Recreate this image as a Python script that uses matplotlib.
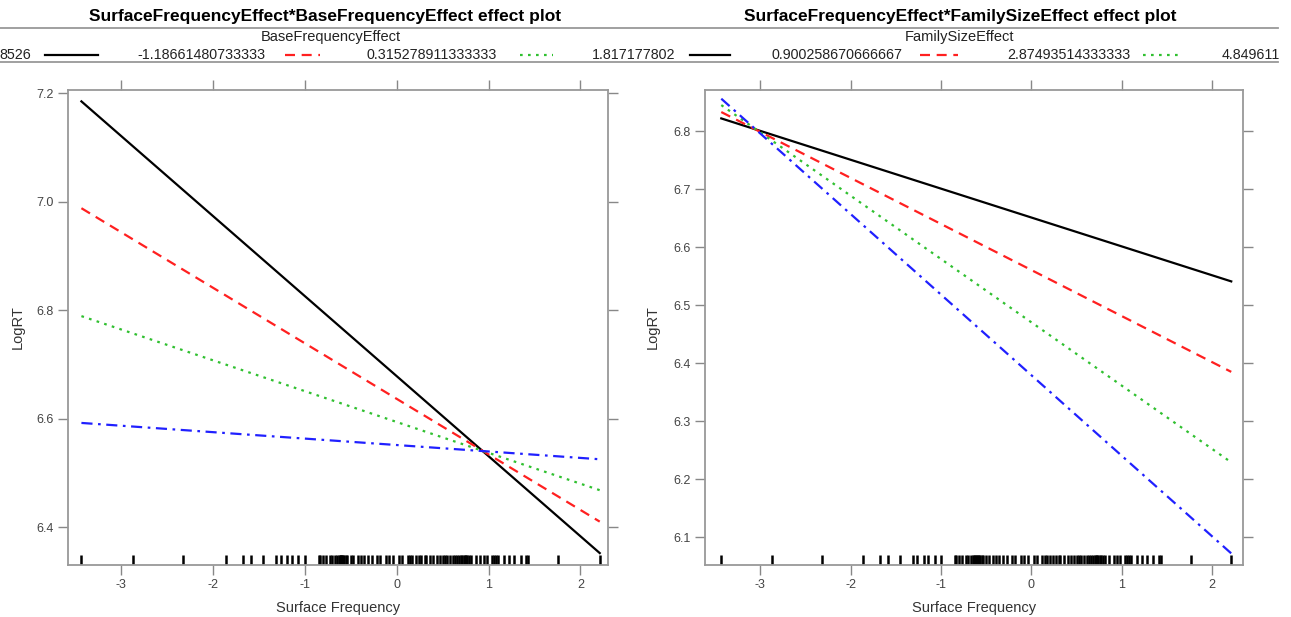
import numpy as np
import matplotlib
matplotlib.use("Agg")
import matplotlib.pyplot as plt
from matplotlib.lines import Line2D

plt.rcParams["font.family"] = ["Liberation Sans", "DejaVu Sans"]

W, H = 1291, 617

# surface frequency range covered by the fitted lines
sf_range = [-3.43, 2.21]

# left panel: LogRT at both ends for each BaseFrequencyEffect level
base_levels = ["8526", "-1.18661480733333", "0.315278911333333", "1.817177802"]
base_fits = [[7.185, 6.352], [6.988, 6.410], [6.789, 6.468], [6.592, 6.525]]

# right panel: LogRT at both ends for each FamilySizeEffect level
family_levels = ["0.900258670666667", "2.87493514333333", "4.849611"]
family_fits = [[6.822, 6.541], [6.833, 6.385], [6.845, 6.229], [6.856, 6.072]]

# observed surface frequencies (rug)
rug = [-3.43, -2.87, -2.32, -1.86, -1.67, -1.59, -1.45, -1.31, -1.26, -1.19,
       -1.14, -1.07, -1.00, -0.85, -0.83, -0.80, -0.77, -0.72, -0.70, -0.67,
       -0.65, -0.63, -0.62, -0.61, -0.60, -0.59, -0.58, -0.57, -0.55, -0.54,
       -0.50, -0.47, -0.42, -0.39, -0.36, -0.31, -0.27, -0.21, -0.18, -0.12,
       -0.08, -0.04, 0.03, 0.06, 0.12, 0.15, 0.17, 0.21, 0.24, 0.27, 0.31,
       0.32, 0.36, 0.40, 0.44, 0.47, 0.50, 0.53, 0.55, 0.58, 0.61, 0.64, 0.66,
       0.68, 0.70, 0.71, 0.73, 0.74, 0.76, 0.77, 0.79, 0.81, 0.86, 0.91, 0.95,
       0.98, 1.04, 1.06, 1.08, 1.10, 1.17, 1.22, 1.28, 1.35, 1.41, 1.43, 1.76,
       2.21]

colors = ["black", "#ff2020", "#30c030", "#2020ff"]
styles = ["-", (0, (4.5, 3)), (0, (1.2, 2.4)), (0, (5, 2.5, 1.2, 2.5))]

x_ticks = [-3, -2, -1, 0, 1, 2]
left_yticks = [6.4, 6.6, 6.8, 7.0, 7.2]
right_yticks = [6.1, 6.2, 6.3, 6.4, 6.5, 6.6, 6.7, 6.8]


def fx(x):
    return x / W


def fy(y):
    return 1 - y / H


fig = plt.figure(figsize=(W / 100, H / 100), dpi=100)


def panel(left, right, fits, xlim, ylim, yticks, ylabel_x):
    ax = fig.add_axes([fx(left), fy(565), fx(right - left), (565 - 90) / H])
    for fit, c, ls in zip(fits, colors, styles):
        ax.plot(sf_range, fit, color=c, linestyle=ls, lw=1.6)
    ax.vlines(rug, 0, 0.022, transform=ax.get_xaxis_transform(),
              color="black", lw=1.8)
    ax.set_xlim(xlim)
    ax.set_ylim(ylim)
    ax.set_xticks(x_ticks)
    ax.set_xticklabels([str(t) for t in x_ticks])
    ax.set_yticks(yticks)
    ax.set_yticklabels([f"{t:.1f}" for t in yticks])
    ax.tick_params(direction="out", length=7, width=1, color="#888888",
                   labelsize=9, labelcolor="#444444", top=True, right=True,
                   pad=3)
    for s in ax.spines.values():
        s.set_color("#999999")
        s.set_linewidth(1.3)
    ax.set_xlabel("Surface Frequency", fontsize=10.5, color="#333333",
                  labelpad=7)
    ax.set_ylabel("LogRT", fontsize=10.5, color="#333333")
    ax.yaxis.set_label_coords((ylabel_x - left) / (right - left), 0.5)
    return ax


panel(68, 608, base_fits, (-3.576, 2.30), (6.330, 7.206), left_yticks, 25)
panel(705, 1243, family_fits, (-3.61, 2.34), (6.052, 6.871), right_yticks, 660)

# titles and strip lines
fig.text(fx(325), fy(16), "SurfaceFrequencyEffect*BaseFrequencyEffect effect plot",
         ha="center", va="center", fontsize=12.5, fontweight="bold")
fig.text(fx(960), fy(16), "SurfaceFrequencyEffect*FamilySizeEffect effect plot",
         ha="center", va="center", fontsize=12.5, fontweight="bold")
for y in (28, 62):
    fig.add_artist(Line2D([0, fx(1278)], [fy(y), fy(y)], color="#999999", lw=1.3))

fig.text(fx(331), fy(37), "BaseFrequencyEffect", ha="center", va="center",
         fontsize=10.5, color="#222222")
fig.text(fx(960), fy(37), "FamilySizeEffect", ha="center", va="center",
         fontsize=10.5, color="#222222")

# legend rows
legend_text_x = [31, 265, 497, 675]
legend_line_x = [(45, 98), (285, 320), (520, 553), (690, 730)]
legend_colors = colors[:3] + [colors[0]]
legend_styles = styles[:3] + [styles[0]]
for txt, tx, (l0, l1), c, ls in zip(base_levels, legend_text_x, legend_line_x,
                                    legend_colors, legend_styles):
    fig.text(fx(tx), fy(55), txt, ha="right", va="center", fontsize=10.3,
             color="#222222")
    fig.add_artist(Line2D([fx(l0), fx(l1)], [fy(55), fy(55)], color=c,
                          linestyle=ls, lw=1.6))

family_text_x = [903, 1130, 1280]
family_line_x = [(920, 958), (1143, 1180)]
for i, (txt, tx) in enumerate(zip(family_levels, family_text_x)):
    fig.text(fx(tx), fy(55), txt, ha="right", va="center", fontsize=10.3,
             color="#222222")
    if i < len(family_line_x):
        l0, l1 = family_line_x[i]
        fig.add_artist(Line2D([fx(l0), fx(l1)], [fy(55), fy(55)],
                              color=colors[i + 1], linestyle=styles[i + 1], lw=1.6))

fig.savefig("out.png", dpi=100, facecolor="white")
